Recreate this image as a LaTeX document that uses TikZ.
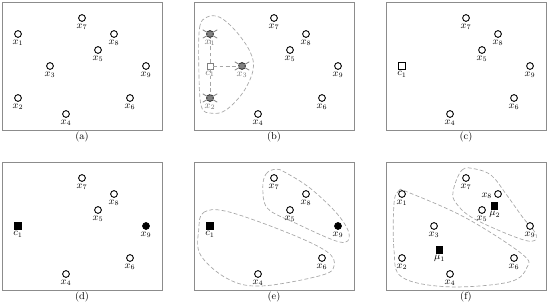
\documentclass[tikz,border=0pt]{standalone}
\usetikzlibrary{positioning}
\begin{document}
\begin{tikzpicture}[
  x=0.5cm, y=-0.5cm,
  pt/.style={circle,draw,thick,fill=white,inner sep=0pt,minimum size=6pt},
  full/.style={pt,fill=black},
  hit/.style={pt,fill=gray,draw=black!80},
  ctr/.style={rectangle,draw,thick,fill=white,inner sep=0pt,minimum size=5.5pt},
  fctr/.style={ctr,fill=black},
  gctr/.style={ctr,draw=gray,thin},
  every label/.style={font=\small,inner sep=1.6pt},
  frame/.style={draw=black!45,line width=0.8pt},
  blob/.style={gray!70,dash pattern=on 3.5pt off 2pt,line width=0.6pt},
  crossout/.style={black!50,line width=0.7pt},
  capnote/.style={font=\small}
]
  \useasboundingbox (-0.125,-0.125) rectangle (34.25,19);

  % (a)
  \begin{scope}
    \draw[frame] (0,0) rectangle (10,8);
    \node[pt,label=below:$x_1$] (x1) at (1,2) {};
    \node[pt,label=below:$x_2$] (x2) at (1,6) {};
    \node[pt,label=below:$x_3$] (x3) at (3,4) {};
    \node[pt,label=below:$x_4$] (x4) at (4,7) {};
    \node[pt,label=below:$x_5$] (x5) at (6,3) {};
    \node[pt,label=below:$x_6$] (x6) at (8,6) {};
    \node[pt,label=below:$x_7$] (x7) at (5,1) {};
    \node[pt,label=below:$x_8$] (x8) at (7,2) {};
    \node[pt,label=below:$x_9$] (x9) at (9,4) {};
    \node[capnote] (capa) at (5,8.45) {(a)};
  \end{scope}

  % (b)
  \begin{scope}[shift={(12,0)}]
    \draw[frame] (0,0) rectangle (10,8);
    \draw[blob] plot[smooth cycle,tension=0.6] coordinates {(0.3,4.0) (0.35,1.6) (0.8,0.95) (1.6,0.95)
      (2.6,1.8) (3.5,3.1) (3.7,4.2) (3.1,5.6) (2.0,6.75) (1.1,6.95) (0.45,6.5)};
    \node[gctr,label={[black!55]below:$c_1$}] (c1b) at (1,4) {};
    \node[hit,label={[black!55]below:$x_1$}] (x1b) at (1,2) {};
    \node[hit,label={[black!55]below:$x_2$}] (x2b) at (1,6) {};
    \node[hit,label={[black!55]below:$x_3$}] (x3b) at (3,4) {};
    \node[pt,label=below:$x_4$] (x4b) at (4,7) {};
    \node[pt,label=below:$x_5$] (x5b) at (6,3) {};
    \node[pt,label=below:$x_6$] (x6b) at (8,6) {};
    \node[pt,label=below:$x_7$] (x7b) at (5,1) {};
    \node[pt,label=below:$x_8$] (x8b) at (7,2) {};
    \node[pt,label=below:$x_9$] (x9b) at (9,4) {};
    \draw[blob] (c1b) -- (x1b);
    \draw[blob] (c1b) -- (x2b);
    \draw[blob] (c1b) -- (x3b);
    \draw[crossout] ([shift={(-0.45,-0.26)}]x1b.center) -- ([shift={(0.45,0.26)}]x1b.center);
    \draw[crossout] ([shift={(-0.45,0.26)}]x1b.center) -- ([shift={(0.45,-0.26)}]x1b.center);
    \draw[crossout] ([shift={(-0.45,-0.26)}]x2b.center) -- ([shift={(0.45,0.26)}]x2b.center);
    \draw[crossout] ([shift={(-0.45,0.26)}]x2b.center) -- ([shift={(0.45,-0.26)}]x2b.center);
    \draw[crossout] ([shift={(-0.45,-0.26)}]x3b.center) -- ([shift={(0.45,0.26)}]x3b.center);
    \draw[crossout] ([shift={(-0.45,0.26)}]x3b.center) -- ([shift={(0.45,-0.26)}]x3b.center);
    \node[capnote] (capb) at (5,8.45) {(b)};
  \end{scope}

  % (c)
  \begin{scope}[shift={(24,0)}]
    \draw[frame] (0,0) rectangle (10,8);
    \node[ctr,label=below:$c_1$] (c1c) at (1,4) {};
    \node[pt,label=below:$x_4$] (x4c) at (4,7) {};
    \node[pt,label=below:$x_5$] (x5c) at (6,3) {};
    \node[pt,label=below:$x_6$] (x6c) at (8,6) {};
    \node[pt,label=below:$x_7$] (x7c) at (5,1) {};
    \node[pt,label=below:$x_8$] (x8c) at (7,2) {};
    \node[pt,label=below:$x_9$] (x9c) at (9,4) {};
    \node[capnote] (capc) at (5,8.45) {(c)};
  \end{scope}

  % (d)
  \begin{scope}[shift={(0,10)}]
    \draw[frame] (0,0) rectangle (10,8);
    \node[fctr,label=below:$c_1$] (c1d) at (1,4) {};
    \node[pt,label=below:$x_4$] (x4d) at (4,7) {};
    \node[pt,label=below:$x_5$] (x5d) at (6,3) {};
    \node[pt,label=below:$x_6$] (x6d) at (8,6) {};
    \node[pt,label=below:$x_7$] (x7d) at (5,1) {};
    \node[pt,label=below:$x_8$] (x8d) at (7,2) {};
    \node[full,label=below:$x_9$] (x9d) at (9,4) {};
    \node[capnote] (capd) at (5,8.45) {(d)};
  \end{scope}

  % (e)
  \begin{scope}[shift={(12,10)}]
    \draw[frame] (0,0) rectangle (10,8);
    \draw[blob] plot[smooth cycle,tension=0.6] coordinates {(4.3,1.6) (4.5,0.75) (5.1,0.45) (5.7,0.65)
      (7.3,1.67) (9.0,3.3) (9.7,4.55) (9.1,5.0) (6.3,3.8) (4.6,2.9)};
    \draw[blob] plot[smooth cycle,tension=0.6] coordinates {(0.3,4.2) (0.6,3.15) (2.1,3.1) (5.8,4.4)
      (8.3,5.6) (8.75,6.5) (7.9,7.1) (4.2,7.75) (2.1,7.3) (0.4,5.8)};
    \node[fctr,label=below:$c_1$] (c1e) at (1,4) {};
    \node[pt,label=below:$x_4$] (x4e) at (4,7) {};
    \node[pt,label=below:$x_5$] (x5e) at (6,3) {};
    \node[pt,label=below:$x_6$] (x6e) at (8,6) {};
    \node[pt,label=below:$x_7$] (x7e) at (5,1) {};
    \node[pt,label=below:$x_8$] (x8e) at (7,2) {};
    \node[full,label=below:$x_9$] (x9e) at (9,4) {};
    \node[capnote] (cape) at (5,8.45) {(e)};
  \end{scope}

  % (f)
  \begin{scope}[shift={(24,10)}]
    \draw[frame] (0,0) rectangle (10,8);
    \draw[blob] plot[smooth cycle,tension=0.6] coordinates {(4.2,1.8) (4.75,0.5) (5.6,0.44) (6.6,0.85)
      (7.5,2.0) (8.5,3.4) (9.4,4.6) (8.7,4.9) (5.6,3.6) (4.4,2.6)};
    \draw[blob] plot[smooth cycle,tension=0.6] coordinates {(0.5,2.6) (0.8,1.8) (1.4,1.9) (5.0,3.5)
      (8.5,5.75) (8.8,6.6) (7.7,7.5) (3.9,7.8) (1.0,7.2) (0.5,5.5)};
    \node[pt,label=below:$x_1$] (x1f) at (1,2) {};
    \node[pt,label=below:$x_2$] (x2f) at (1,6) {};
    \node[pt,label=below:$x_3$] (x3f) at (3,4) {};
    \node[pt,label=below:$x_4$] (x4f) at (4,7) {};
    \node[pt,label=below:$x_5$] (x5f) at (6,3) {};
    \node[pt,label=below:$x_6$] (x6f) at (8,6) {};
    \node[pt,label=below:$x_7$] (x7f) at (5,1) {};
    \node[pt,label={[yshift=-2pt]left:$x_8$}] (x8f) at (7,2) {};
    \node[pt,label=below:$x_9$] (x9f) at (9,4) {};
    \node[fctr,label=below:$\mu_1$] (mu1) at (3.35,5.5) {};
    \node[fctr,label=below:$\mu_2$] (mu2) at (6.8,2.75) {};
    \node[capnote] (capf) at (5,8.45) {(f)};
  \end{scope}
\end{tikzpicture}
\end{document}
